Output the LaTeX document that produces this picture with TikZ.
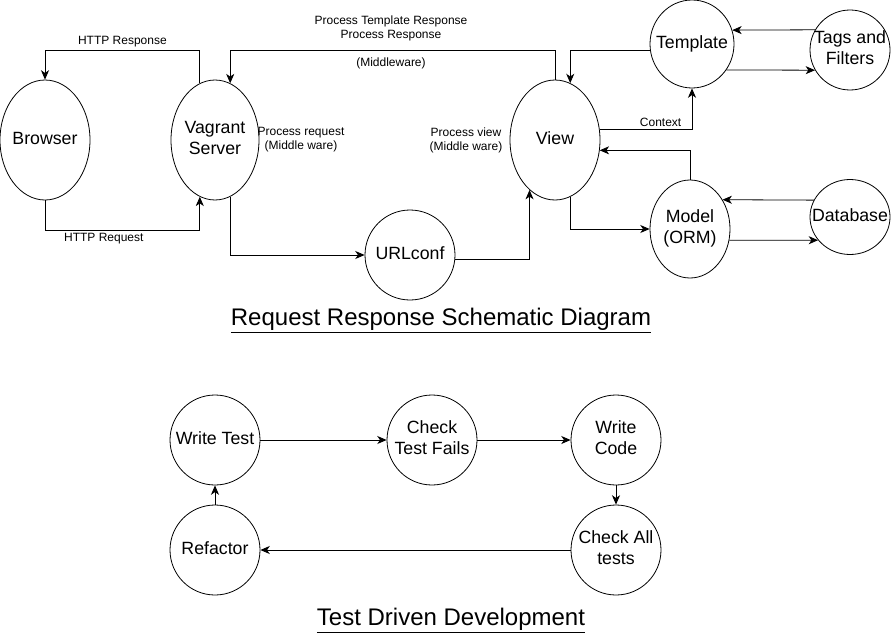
\documentclass[tikz,border=0pt]{standalone}
\usepackage{fontspec}
\setmainfont{Liberation Sans}
\usetikzlibrary{arrows.meta,shapes.geometric}
\newcommand{\bubtext}[1]{\makebox[0pt]{\raisebox{-1.5pt}{\begin{tabular}{@{}c@{}}#1\end{tabular}}}}

\begin{document}
\begin{tikzpicture}[x=0.75pt,y=-0.75pt,>={Stealth[length=7pt,width=6pt,inset=2pt]},line width=0.6pt,
  bub/.style 2 args={ellipse,draw,inner sep=0pt,minimum width=#1*0.75pt,minimum height=#2*0.75pt,
    font=\fontsize{13.3}{15.8}\selectfont},
  lbl/.style={font=\fontsize{9}{10.5}\selectfont,align=center,inner sep=2pt},
  ttl/.style={font=\fontsize{18}{21.6}\selectfont}]
  \useasboundingbox (0,0) rectangle (891,635);

  \node[bub={90}{120}] (brw) at (45,140) {\bubtext{Browser}};
  \node[bub={88}{120}] (vag) at (215,140) {\bubtext{Vagrant\\Server}};
  \node[bub={90}{120}] (view) at (555,140) {\bubtext{View}};
  \node[bub={90}{90}] (url) at (410,255) {\bubtext{URLconf}};
  \node[bub={84}{88}] (tpl) at (692,44) {\bubtext{Template}};
  \node[bub={80}{80}] (tag) at (850,50) {\bubtext{Tags and\\Filters}};
  \node[bub={80}{98}] (mdl) at (690,229) {\bubtext{Model\\(ORM)}};
  \node[bub={80}{75}] (db) at (850,217) {\bubtext{Database}};

  \draw[->] (vag.105) -- (vag.105 |- 0,50) -| (brw.north)
    node[lbl,pos=0.25,above] (hresp) {HTTP Response};
  \draw[->] (brw.south) -- (brw.south |- 0,230) -| (vag.255)
    node[lbl,pos=0.19,below] (hreq) {HTTP Request};
  \draw[->] (view.north) -- (view.north |- 0,50) -| (vag.75);
  \draw[->] (tpl.188) -| (view.75);
  \draw[->] (vag.285) |- (url.west);
  \draw[->] (url.-6) -| (view.243);
  \draw[->] (view.13) -| (tpl.south) node[lbl,pos=0.33,above] (ctx) {Context};
  \draw[->] (mdl.north) |- (view.-13);
  \draw[->] (view.285) |- (mdl.west);
  \draw[->] (tag.150) -- (tpl.19);
  \draw[->] (tpl.-37) -- (tag.210);
  \draw[->] (db.155) -- (mdl.42);
  \draw[->] (mdl.-16) -- (db.216);

  \node[lbl] (presp) at (391,28) {Process Template Response\\Process Response};
  \node[lbl] (mware) at (391,63) {(Middleware)};
  \node[lbl] (preq) at (301,140) {Process request\\(Middle ware)};
  \node[lbl] (pview) at (466,140) {Process view\\(Middle ware)};

  \node[ttl] (rrtitle) at (441,321) {\underline{Request Response Schematic Diagram}};

  \node[bub={90}{90}] (wt) at (215,440) {\bubtext{Write Test}};
  \node[bub={90}{90}] (ctf) at (432,440) {\bubtext{Check\\Test Fails}};
  \node[bub={90}{90}] (wc) at (616,440) {\bubtext{Write\\Code}};
  \node[bub={90}{90}] (cat) at (616,550) {\bubtext{Check All\\tests}};
  \node[bub={90}{90}] (ref) at (215,550) {\bubtext{Refactor}};

  \draw[->] (wt) -- (ctf);
  \draw[->] (ctf) -- (wc);
  \draw[->] (wc) -- (cat);
  \draw[->] (cat) -- (ref);
  \draw[->] (ref) -- (wt);

  \node[ttl] (tddtitle) at (451,621) {\underline{Test Driven Development}};
\end{tikzpicture}
\end{document}
